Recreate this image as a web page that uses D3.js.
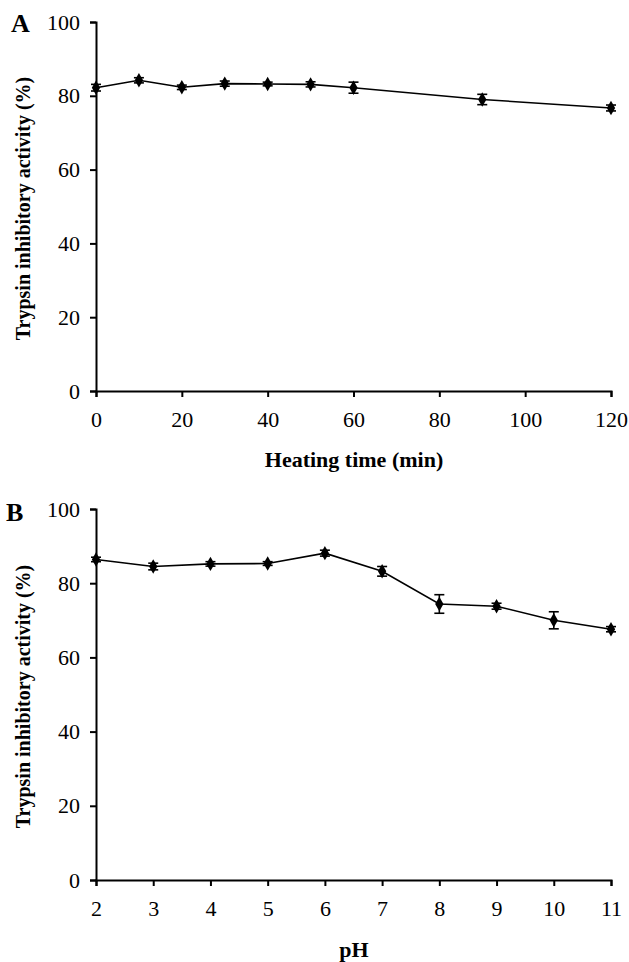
<!DOCTYPE html>
<html>
<head>
<meta charset="utf-8">
<script src="https://cdn.jsdelivr.net/npm/d3@7"></script>
<style>
  body { margin: 0; background: #fff; }
  text { font-family: "Liberation Serif", "Times New Roman", serif; fill: #000; }
</style>
</head>
<body>
<script>
var w = 629,
    h = 962;

// panel A: heating time
var timeX = [0, 10, 20, 30, 40, 50, 60, 90, 120];
var timeY = [82.2, 84.2, 82.3, 83.3, 83.2, 83.1, 82.2, 79.0, 76.7];
var timeErr = [0.9, 0.7, 0.6, 0.7, 0.5, 0.7, 1.5, 1.4, 0.8];
var timeTicks = [0, 20, 40, 60, 80, 100, 120];

// panel B: pH
var phX = [2, 3, 4, 5, 6, 7, 8, 9, 10, 11];
var phY = [86.4, 84.5, 85.2, 85.3, 88.1, 83.2, 74.4, 73.8, 70.0, 67.6];
var phErr = [0.6, 0.9, 0.6, 0.5, 0.8, 1.3, 2.5, 0.8, 2.3, 0.7];
var phTicks = [2, 3, 4, 5, 6, 7, 8, 9, 10, 11];

var yTicks = [0, 20, 40, 60, 80, 100];

var svg = d3.select("body")
          .append("svg")
          .attr("width", w)
          .attr("height", h);

function panel(opts) {
  var x = d3.scaleLinear().domain(opts.xDomain).range([96, 611]);
  var y = d3.scaleLinear().domain([0, 100]).range([opts.bottom, opts.top]);

  var g = svg.append("g");

  // y axis
  var ya = g.append("g")
      .attr("transform", "translate(96,0)")
      .call(d3.axisLeft(y).tickValues(yTicks).tickSize(6).tickPadding(10));
  // x axis
  var xa = g.append("g")
      .attr("transform", "translate(0," + opts.bottom + ")")
      .call(d3.axisBottom(x).tickValues(opts.ticks).tickSize(6).tickPadding(14));

  [ya, xa].forEach(function(a) {
    a.select(".domain").attr("stroke", "#000").attr("stroke-width", 2);
    a.selectAll(".tick line").attr("stroke", "#000").attr("stroke-width", 2);
    a.selectAll(".tick text")
      .style("font-family", "'Liberation Serif', serif")
      .style("font-size", "22px")
      .attr("fill", "#000");
  });

  var pts = opts.xs.map(function(d, i) { return {x: d, y: opts.ys[i], e: opts.errs[i]}; });

  // error bars
  var eb = g.append("g").selectAll("g").data(pts).enter().append("g")
      .attr("stroke", "#000").attr("stroke-width", 1.6);
  eb.append("line")
      .attr("x1", function(d) { return x(d.x); })
      .attr("x2", function(d) { return x(d.x); })
      .attr("y1", function(d) { return y(d.y - d.e); })
      .attr("y2", function(d) { return y(d.y + d.e); });
  eb.append("line")
      .attr("x1", function(d) { return x(d.x) - 5; })
      .attr("x2", function(d) { return x(d.x) + 5; })
      .attr("y1", function(d) { return y(d.y + d.e); })
      .attr("y2", function(d) { return y(d.y + d.e); });
  eb.append("line")
      .attr("x1", function(d) { return x(d.x) - 5; })
      .attr("x2", function(d) { return x(d.x) + 5; })
      .attr("y1", function(d) { return y(d.y - d.e); })
      .attr("y2", function(d) { return y(d.y - d.e); });

  var line = d3.line()
      .x(function(d) { return x(d.x); })
      .y(function(d) { return y(d.y); });

  g.append("path")
      .datum(pts)
      .attr("d", line)
      .attr("fill", "none")
      .attr("stroke", "#000")
      .attr("stroke-width", 1.6);

  g.append("g").selectAll("path").data(pts).enter().append("path")
      .attr("d", d3.symbol().type(d3.symbolDiamond).size(60))
      .attr("transform", function(d) { return "translate(" + x(d.x) + "," + y(d.y) + ")"; })
      .attr("fill", "#000");

  // labels
  g.append("text")
      .attr("transform", "translate(30," + ((opts.top + opts.bottom) / 2 + 2) + ") rotate(-90)")
      .attr("text-anchor", "middle")
      .style("font-size", "20px")
      .style("font-weight", "bold")
      .text("Trypsin inhibitory activity (%)");

  g.append("text")
      .attr("x", 354)
      .attr("y", opts.xLabelY)
      .attr("text-anchor", "middle")
      .style("font-size", "22px")
      .style("font-weight", "bold")
      .text(opts.xLabel);

  g.append("text")
      .attr("x", opts.letterX)
      .attr("y", opts.letterY)
      .style("font-size", "26px")
      .style("font-weight", "bold")
      .text(opts.letter);
}

panel({
  xDomain: [0, 120], ticks: timeTicks, xs: timeX, ys: timeY, errs: timeErr,
  top: 22, bottom: 391, xLabel: "Heating time (min)", xLabelY: 467,
  letter: "A", letterX: 11, letterY: 32
});

panel({
  xDomain: [2, 11], ticks: phTicks, xs: phX, ys: phY, errs: phErr,
  top: 509, bottom: 880, xLabel: "pH", xLabelY: 957,
  letter: "B", letterX: 6, letterY: 521
});
</script>
</body>
</html>
